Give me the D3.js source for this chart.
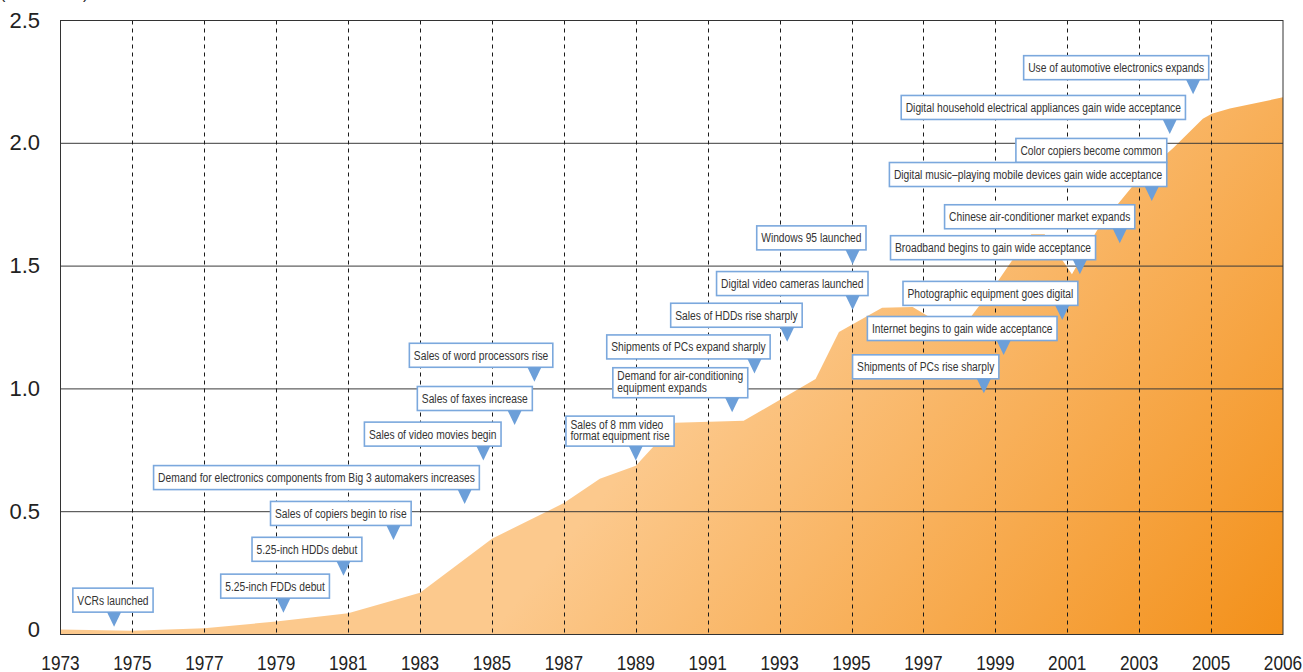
<!DOCTYPE html>
<html><head><meta charset="utf-8">
<script src="https://cdn.jsdelivr.net/npm/d3@7"></script>
<style>body{margin:0;background:#fff}svg{display:block}</style>
</head><body>
<svg id="c" width="1303" height="672"></svg>
<script>
// ---- data ----
const areaYears  = [1973, 1975, 1977, 1979, 1981, 1983, 1985, 1987, 1988, 1989, 1990.1, 1992, 1993, 1994, 1994.65, 1995.85, 1996.7, 1997.2, 1998.3, 1999.03, 1999.47, 2000.0, 2000.37, 2001.13, 2001.83, 2002.38, 2003.02, 2003.94, 2004.77, 2005.02, 2005.52, 2007];
const areaValues = [0.02, 0.015, 0.025, 0.053, 0.087, 0.17, 0.39, 0.535, 0.634, 0.687, 0.862, 0.87, 0.955, 1.04, 1.232, 1.33, 1.333, 1.29, 1.29, 1.43, 1.524, 1.63, 1.63, 1.467, 1.646, 1.748, 1.862, 1.98, 2.10, 2.12, 2.142, 2.187];

const yTickValues = [0, 0.5, 1.0, 1.5, 2.0, 2.5];
const yTickLabels = ["0", "0.5", "1.0", "1.5", "2.0", "2.5"];
const xTickLabels = ["1973","1975","1977","1979","1981","1983","1985","1987","1989","1991","1993","1995","1997","1999","2001","2003","2005","2006"];
const unitLabel = "(Trillion Yen)";

const noteTexts = [
  "VCRs launched",
  "5.25-inch FDDs debut",
  "5.25-inch HDDs debut",
  "Sales of copiers begin to rise",
  "Demand for electronics components from Big 3 automakers increases",
  "Sales of video movies begin",
  "Sales of faxes increase",
  "Sales of word processors rise",
  "Sales of 8 mm video\nformat equipment rise",
  "Demand for air-conditioning\nequipment expands",
  "Shipments of PCs expand sharply",
  "Sales of HDDs rise sharply",
  "Digital video cameras launched",
  "Windows 95 launched",
  "Shipments of PCs rise sharply",
  "Internet begins to gain wide acceptance",
  "Photographic equipment goes digital",
  "Broadband begins to gain wide acceptance",
  "Chinese air-conditioner market expands",
  "Color copiers become common",
  "Digital music\u2013playing mobile devices gain wide acceptance",
  "Digital household electrical appliances gain wide acceptance",
  "Use of automotive electronics expands"
];
const noteYears  = [1974.49, 1979.2, 1980.87, 1982.26, 1984.24, 1984.76, 1985.63, 1986.18, 1989.0, 1991.68, 1992.3, 1993.21, 1995.03, 1995.03, 1998.68, 1999.23, 2000.86, 2001.35, 2002.46, 2003.35, 2003.35, 2003.85, 2004.5];
const noteValues = [0.032, 0.089, 0.239, 0.385, 0.531, 0.708, 0.853, 1.029, 0.708, 0.905, 1.063, 1.192, 1.321, 1.507, 0.982, 1.138, 1.281, 1.467, 1.593, 1.863, 1.765, 2.038, 2.2];
// layout: horizontal offset (px) of the box's right edge from the pointer
const noteBoxRight = [39, 46, 18.4, 17.7, 14.7, 17.7, 17.7, 18.4, 38.3, 15.6, 15.7, 15, 15.4, 13.4, 15, 53.4, 15.6, 15.7, 15, 15, 15, 15.7, 15.6];

// ---- chart ----
const svg = d3.select("#c");
const x = d3.scaleLinear().domain([1973, 2007]).range([60.5, 1283]);
const y = d3.scaleLinear().domain([0, 2.5]).range([634.5, 20.5]);
const tickYear = d3.scaleLinear().domain([0, xTickLabels.length - 1]).range([1973, 2007]);

const REG = "'Liberation Sans', Arial, sans-serif";
const SQUEEZE = 0.82;

// condensed text: regular face horizontally compressed
function narrowText(sel) {
  sel.style("font-family", REG);
  sel.each(function () {
    const w = this.getComputedTextLength() * SQUEEZE;
    this.__w = w;
    d3.select(this).attr("textLength", w).attr("lengthAdjust", "spacingAndGlyphs");
  });
  return sel;
}

const defs = svg.append("defs");
const grad = defs.append("linearGradient").attr("id", "g").attr("gradientUnits", "userSpaceOnUse")
  .attr("x1", 800).attr("y1", 250).attr("x2", 1283).attr("y2", 640);
grad.append("stop").attr("offset", 0).attr("stop-color", "#fcc98d");
grad.append("stop").attr("offset", 1).attr("stop-color", "#f39019");

const pts = areaYears.map((yr, i) => ({ yr, v: areaValues[i] }));
const area = d3.area().x(d => x(d.yr)).y0(y(0)).y1(d => y(d.v));
svg.append("path").datum(pts).attr("d", area).attr("fill", "url(#g)");

// horizontal grid lines
svg.append("g").selectAll("line").data(yTickValues.filter(v => v > 0 && v < 2.5)).join("line")
  .attr("x1", x(1973)).attr("x2", x(2007)).attr("y1", d => y(d)).attr("y2", d => y(d))
  .attr("stroke", "#3a3a3a").attr("stroke-width", 1);

// vertical dashed lines
const innerIdx = d3.range(1, xTickLabels.length - 1);
svg.append("g").selectAll("line").data(innerIdx).join("line")
  .attr("x1", d => Math.round(x(tickYear(d))) + 0.5).attr("x2", d => Math.round(x(tickYear(d))) + 0.5)
  .attr("y1", y(2.5)).attr("y2", y(0))
  .attr("stroke", "#1a1a1a").attr("stroke-width", 1).attr("stroke-dasharray", "4,4");

// frame
svg.append("rect").attr("x", x(1973)).attr("y", y(2.5))
  .attr("width", x(2007) - x(1973)).attr("height", y(0) - y(2.5))
  .attr("fill", "none").attr("stroke", "#333").attr("stroke-width", 1);

// y labels
svg.append("g").selectAll("text").data(yTickValues).join("text")
  .attr("x", 40).attr("y", (d) => Math.min(y(d) + 7, y(0) + 2))
  .attr("text-anchor", "end").attr("font-size", 22).attr("fill", "#222")
  .style("font-family", REG)
  .text((d, i) => yTickLabels[i]);

// x labels
narrowText(svg.append("g").selectAll("text").data(xTickLabels).join("text")
  .attr("x", (d, i) => x(tickYear(i))).attr("y", 670)
  .attr("text-anchor", "middle").attr("font-size", 21).attr("fill", "#222")
  .text(d => d));

// unit label (cut off at top)
svg.append("text").attr("x", 0).attr("y", -1).attr("font-size", 16).attr("fill", "#222")
  .style("font-family", REG).text(unitLabel);

// callouts
const notesG = svg.append("g");
noteTexts.forEach((t, i) => {
  const g = notesG.append("g");
  const tx = x(noteYears[i]), ty = y(noteValues[i]);
  const lines = t.split("\n");
  const h = lines.length === 1 ? 24 : 30;
  const bottom = ty - 14.5;
  const top = bottom - h;
  const rect = g.append("rect");
  const txt = g.append("g");
  const tnodes = lines.map((ln, k) => {
    const tt = txt.append("text").attr("font-size", 12.5).attr("fill", "#333")
      .attr("y", lines.length === 1 ? top + 16.5 : top + 12.7 + k * 11.5).text(ln);
    narrowText(tt);
    return tt;
  });
  const maxW = d3.max(tnodes, s => s.node().__w);
  const bw = maxW + 9;
  const right = tx + noteBoxRight[i];
  const left = right - bw;
  tnodes.forEach(s => s.attr("x", left + 4.5));
  rect.attr("x", left).attr("y", top).attr("width", bw).attr("height", h)
    .attr("fill", "#fff").attr("stroke", "#7ba8dd").attr("stroke-width", 1.6);
  g.append("path").attr("d", `M${tx - 7},${bottom} L${tx + 7},${bottom} L${tx},${ty} Z`)
    .attr("fill", "#6c9fd9");
});
</script>
</body></html>
